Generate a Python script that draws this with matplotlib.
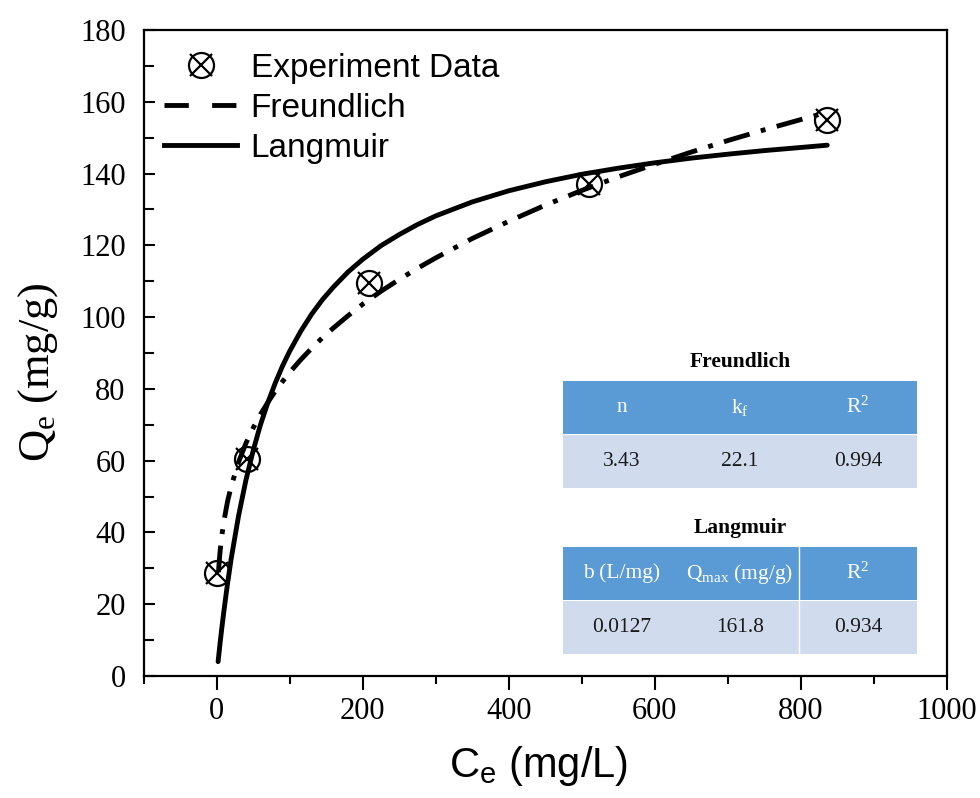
import matplotlib
matplotlib.use('Agg')
import matplotlib.pyplot as plt
from matplotlib.lines import Line2D
from matplotlib.patches import Rectangle
from matplotlib.legend_handler import HandlerTuple
from matplotlib.ticker import MultipleLocator

# ---------------- data ----------------
exp_ce = [1, 42, 208, 510, 836]
exp_qe = [28.6, 60.4, 109.6, 137.0, 155.0]

lang_ce = [2, 3, 5, 7, 10, 15, 20, 30, 40, 50, 60, 70, 80, 90, 100, 115, 130, 145, 160,
           180, 200, 225, 250, 275, 300, 350, 400, 450, 500, 550, 600, 650, 700, 750, 836]
lang_qe = [4.0, 5.9, 9.7, 13.2, 18.2, 25.9, 32.8, 44.6, 54.5, 62.8, 70.0, 76.1, 81.5, 86.3,
           90.5, 96.0, 100.8, 104.9, 108.4, 112.6, 116.1, 119.9, 123.0, 125.8, 128.2, 132.1,
           135.2, 137.7, 139.8, 141.5, 143.0, 144.3, 145.4, 146.4, 147.9]

freu_ce = [2.5, 3.5, 5, 7, 10, 15, 20, 30, 40, 50, 60, 70, 80, 90, 100, 115, 130, 145, 160,
           180, 200, 225, 250, 275, 300, 350, 400, 450, 500, 550, 600, 650, 700, 750, 836]
freu_qe = [28.9, 31.8, 35.3, 39.0, 43.2, 48.7, 52.9, 59.6, 64.8, 69.1, 72.9, 76.2, 79.3, 82.0,
           84.6, 88.1, 91.3, 94.3, 97.0, 100.4, 103.6, 107.2, 110.5, 113.6, 116.5, 121.9,
           126.7, 131.2, 135.3, 139.1, 142.6, 146.0, 149.2, 152.2, 157.1]

x_ticks = [0, 200, 400, 600, 800, 1000]
y_ticks = [0, 20, 40, 60, 80, 100, 120, 140, 160, 180]

freu_title = 'Freundlich'
freu_headers = ['n', r'k$\mathregular{_f}$', r'R$\mathregular{^2}$']
freu_values = ['3.43', '22.1', '0.994']
lang_title = 'Langmuir'
lang_headers = ['b (L/mg)', r'Q$\mathregular{_{max}}$ (mg/g)', r'R$\mathregular{^2}$']
lang_values = ['0.0127', '161.8', '0.934']

# ---------------- figure ----------------
W, H = 980, 798
fig = plt.figure(figsize=(W / 100, H / 100), dpi=100)
SERIF = 'Liberation Serif'
SANS = 'Liberation Sans'
LW = 3.5

ax_l, ax_r, ax_t, ax_b = 143.6, 947, 30, 676
ax = fig.add_axes([ax_l / W, 1 - ax_b / H, (ax_r - ax_l) / W, (ax_b - ax_t) / H])

ax.plot(lang_ce, lang_qe, color='black', lw=LW, solid_capstyle='round',
        solid_joinstyle='round', zorder=3)
ax.plot(freu_ce, freu_qe, color='black', lw=LW, linestyle=(0, (5.5, 2.4, 1.0, 2.4)),
        zorder=3)
ax.plot(exp_ce, exp_qe, linestyle='none', marker='o', ms=18, mfc='none', mec='black',
        mew=1.6, zorder=4)
ax.plot(exp_ce, exp_qe, linestyle='none', marker='x', ms=16, mec='black', mew=1.6, zorder=4)

ax.set_xlim(-100, 1000)
ax.set_ylim(0, 180)
ax.set_xticks(x_ticks)
ax.set_yticks(y_ticks)
ax.xaxis.set_minor_locator(MultipleLocator(100))
ax.yaxis.set_minor_locator(MultipleLocator(10))

for s in ax.spines.values():
    s.set_linewidth(1.6)

ax.tick_params(axis='x', which='major', direction='out', length=10, width=1.5, pad=5,
               top=False, labelsize=22)
ax.tick_params(axis='x', which='minor', direction='out', length=6, width=1.5, top=False)
ax.tick_params(axis='y', which='major', direction='in', length=8, width=1.5, pad=13,
               right=False, labelsize=22)
ax.tick_params(axis='y', which='minor', direction='in', length=7, width=1.5, right=False)
for lab in ax.get_xticklabels() + ax.get_yticklabels():
    lab.set_fontfamily(SERIF)

ax.set_xlabel(r'C$\mathregular{_e}$ (mg/L)', fontsize=30, fontfamily=SANS)
ax.set_ylabel(r'Q$\mathregular{_e}$ (mg/g)', fontsize=32, fontfamily=SERIF)
ax.xaxis.set_label_coords((539 - ax_l) / (ax_r - ax_l), -(744 - ax_b) / (ax_b - ax_t))
ax.yaxis.set_label_coords(-(ax_l - 60) / (ax_r - ax_l), (ax_b - 372) / (ax_b - ax_t))

# legend
h_exp = (Line2D([], [], linestyle='none', marker='o', ms=18, mfc='none', mec='black', mew=1.6),
         Line2D([], [], linestyle='none', marker='x', ms=16, mec='black', mew=1.6))
h_fr = Line2D([], [], color='black', lw=LW, linestyle=(0, (5.0, 4.8)))
h_la = Line2D([], [], color='black', lw=LW)
leg = ax.legend([h_exp, h_fr, h_la], ['Experiment Data', 'Freundlich', 'Langmuir'],
                handler_map={tuple: HandlerTuple(ndivide=1, pad=0)},
                loc='upper left', bbox_to_anchor=(164 / W, 1 - 53 / H),
                bbox_transform=fig.transFigure, frameon=False, borderpad=0,
                borderaxespad=0, handlelength=2.2, handletextpad=0.4,
                labelspacing=0.27, prop={'family': SANS, 'size': 24})

# ---------------- tables ----------------
HEAD_C = '#5B9BD5'
ROW_C = '#D0DCEE'


def fx(px):
    return px / W


def fy(py):
    return 1 - py / H


def draw_table(title, headers, values, y_title, y_top, y_mid, y_bot, vline=False):
    x0, x1 = 563, 917
    cw = (x1 - x0) / 3
    fig.text(fx((x0 + x1) / 2), fy(y_title), title, ha='center', va='center',
             fontsize=15.5, fontweight='bold', fontfamily=SERIF)
    fig.patches.append(Rectangle((fx(x0), fy(y_mid)), fx(x1) - fx(x0), fy(y_top) - fy(y_mid),
                                 transform=fig.transFigure, facecolor=HEAD_C, edgecolor='none'))
    fig.patches.append(Rectangle((fx(x0), fy(y_bot)), fx(x1) - fx(x0), fy(y_mid + 1) - fy(y_bot),
                                 transform=fig.transFigure, facecolor=ROW_C, edgecolor='none'))
    if vline:
        xv = x0 + 2 * cw
        fig.add_artist(Line2D([fx(xv), fx(xv)], [fy(y_top), fy(y_bot)],
                              transform=fig.transFigure, color='white', lw=1.0))
    for i in range(3):
        xc = x0 + cw * (i + 0.5)
        fig.text(fx(xc), fy((y_top + y_mid) / 2), headers[i], ha='center', va='center',
                 fontsize=15.5, color='white', fontfamily=SERIF)
        fig.text(fx(xc), fy((y_mid + y_bot) / 2), values[i], ha='center', va='center',
                 fontsize=15.5, color='#1a1a1a', fontfamily=SERIF)


draw_table(freu_title, freu_headers, freu_values, 362, 381, 434, 488)
draw_table(lang_title, lang_headers, lang_values, 528, 547, 600, 654, vline=True)

fig.savefig('out.png', dpi=100, facecolor='white')
